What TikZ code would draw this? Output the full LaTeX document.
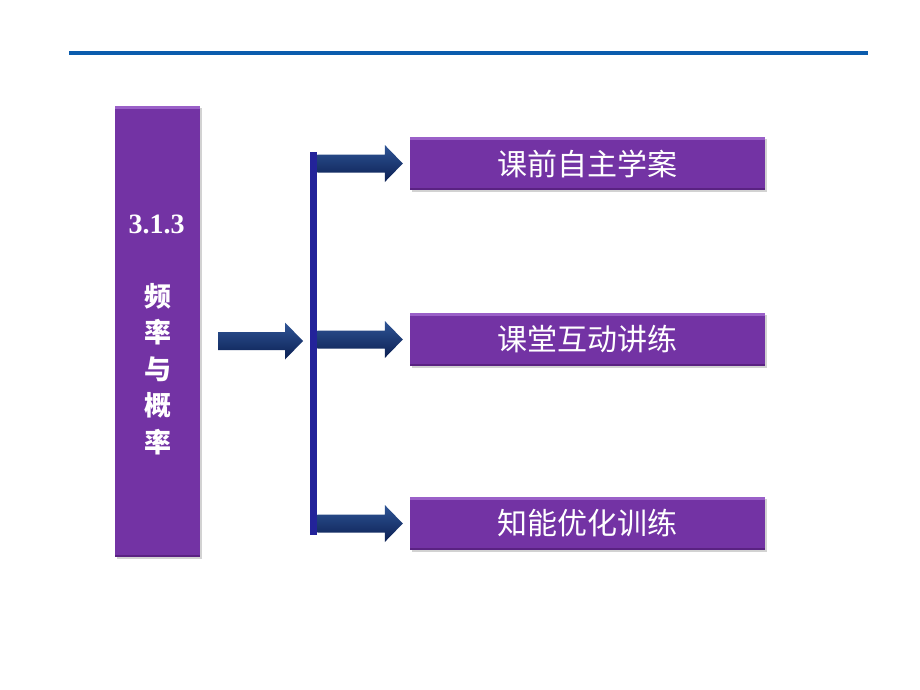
\documentclass[tikz,border=0pt]{standalone}
\usepackage{fontspec}
\setmainfont{Liberation Serif}
\newfontfamily\cjk{Noto Sans CJK SC}
\usetikzlibrary{shadows,calc}
\definecolor{boxpurple}{HTML}{7333A4}
\definecolor{boxlight}{HTML}{9A60C8}
\definecolor{boxdark}{HTML}{5A2282}
\definecolor{barblue}{HTML}{23239A}
\definecolor{arrtop}{HTML}{2F5596}
\definecolor{arrmid}{HTML}{17357A}
\definecolor{arrbot}{HTML}{0B1F52}
\definecolor{topline}{HTML}{0B5CAD}
\tikzset{
  box/.style={fill=boxpurple, draw=none, inner sep=0pt,
    drop shadow={shadow xshift=1.5pt, shadow yshift=-2pt, opacity=0.35},
    path picture={
      \fill[boxlight] (path picture bounding box.north west) rectangle ([yshift=-2.5pt]path picture bounding box.north east);
      \fill[boxdark] (path picture bounding box.south west) rectangle ([yshift=2pt]path picture bounding box.south east);
    }},
  itemtext/.style={text=white, font=\cjk\fontsize{30}{30}\selectfont},
  arrshade/.style={top color=arrtop, middle color=arrmid, bottom color=arrbot, draw=none},
}
\newcommand\blockarr[2]{%
  \path[arrshade] let \p1=(#1), \p2=(#2) in
    (\x1,\y1+9pt) -- (\x2-18pt,\y1+9pt) -- (\x2-18pt,\y1+18.5pt) -- (\x2,\y1)
    -- (\x2-18pt,\y1-18.5pt) -- (\x2-18pt,\y1-9pt) -- (\x1,\y1-9pt) -- cycle;}
\begin{document}
\begin{tikzpicture}[x=1pt,y=-1pt]
\useasboundingbox[fill=white] (0,0) rectangle (920,690);
% top rule
\coordinate (tl) at (69,53);
\coordinate (tr) at (868,53);
\draw[topline, line width=4pt] (tl) -- (tr);
% left topic box
\node[box, minimum width=85pt, minimum height=451pt, anchor=north west] (topic) at (115,106) {};
\node[text=white, font=\bfseries\fontsize{28}{28}\selectfont] (num) at (156.5,224) {3.1.3};
\node[text=white, font=\cjk\bfseries\fontsize{27}{36.5}\selectfont, align=center] (title) at (157.5,369) {频\\率\\与\\概\\率};
% vertical bar
\node[fill=barblue, draw=none, minimum width=7pt, minimum height=383pt, inner sep=0pt, anchor=north west] (bar) at (310,152) {};
% right boxes
\node[box, itemtext, minimum width=355pt, minimum height=53pt] (b1) at (587.5,163.5) {课前自主学案};
\node[box, itemtext, minimum width=355pt, minimum height=53pt] (b2) at (587.5,339.5) {课堂互动讲练};
\node[box, itemtext, minimum width=355pt, minimum height=53pt] (b3) at (587.5,523.5) {知能优化训练};
% arrows
\coordinate (a0s) at (218,341);
\coordinate (a0e) at ($(bar.west |- a0s)+(-7,0)$);
\blockarr{a0s}{a0e}
\blockarr{bar.east |- b1.west}{$(b1.west)+(-7,0)$}
\blockarr{bar.east |- b2.west}{$(b2.west)+(-7,0)$}
\blockarr{bar.east |- b3.west}{$(b3.west)+(-7,0)$}
\end{tikzpicture}
\end{document}
